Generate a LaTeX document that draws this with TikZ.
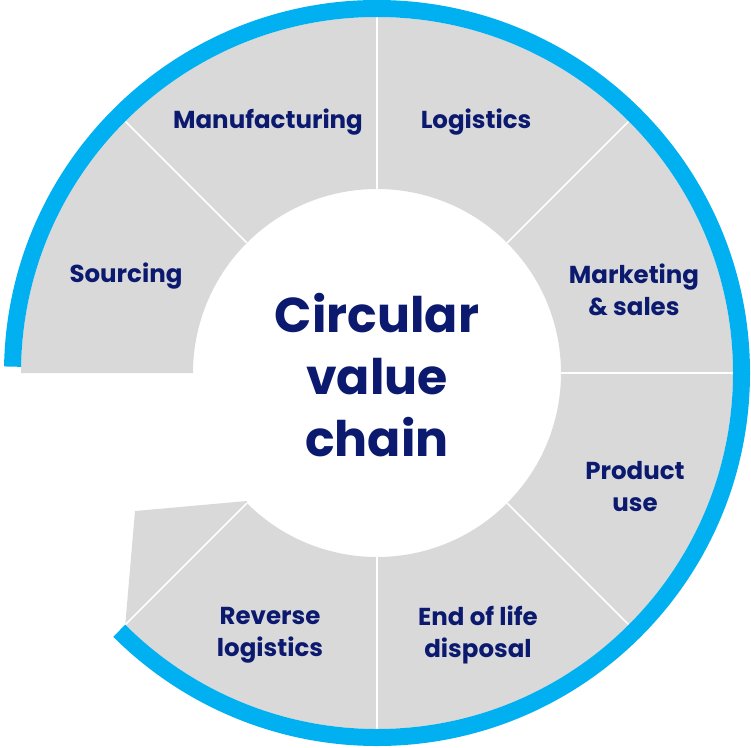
\documentclass[tikz,border=0pt]{standalone}
\usepackage{fontspec}
\setmainfont{Poppins}
\definecolor{ringgray}{HTML}{D9D9D9}
\definecolor{ringblue}{HTML}{00B0F0}
\definecolor{navy}{HTML}{0B1A6E}
\begin{document}
\begin{tikzpicture}[x=1pt,y=1pt,
  seg/.style={fill=ringgray},
  divider/.style={draw=white,line width=1.5pt},
  lbl/.style={text=navy,font=\fontsize{24.5}{32}\selectfont\bfseries,align=center,inner sep=0pt},
  ttl/.style={text=navy,font=\fontsize{49}{62}\selectfont\bfseries,align=center,inner sep=0pt}]
\useasboundingbox (-377,-374) rectangle (374,373);
% gray ring
\fill[seg] (-135:184) arc[start angle=-135,end angle=180,radius=184]
  -- (180:356) arc[start angle=180,end angle=-135,radius=356] -- cycle;
% tail
\fill[seg] (225:356) -- (-242,-138) -- (-130,-128) -- (225:184) -- cycle;
% dividers
\foreach \a in {135,90,45,0,-45,-90,-135}
  \draw[divider] (\a:184) -- (\a:356);
% blue arc
\draw[ringblue,line width=17pt] (179:364.5) arc[start angle=179,end angle=-135,radius=364.5];
% labels
\node[lbl] (manu) at (-109,251) {Manufacturing};
\node[lbl] (logi) at (99,251) {Logistics};
\node[lbl] (sour) at (-251,97) {Sourcing};
\node[lbl] (mark) at (257,83.5) {Marketing\\\& sales};
\node[lbl] (prod) at (258,-114) {Product\\use};
\node[lbl] (endl) at (101,-262) {End of life\\disposal};
\node[lbl] (reve) at (-107,-262) {Reverse\\logistics};
\node[ttl] (title) at (0,-2) {Circular\\value\\chain};
\end{tikzpicture}
\end{document}
